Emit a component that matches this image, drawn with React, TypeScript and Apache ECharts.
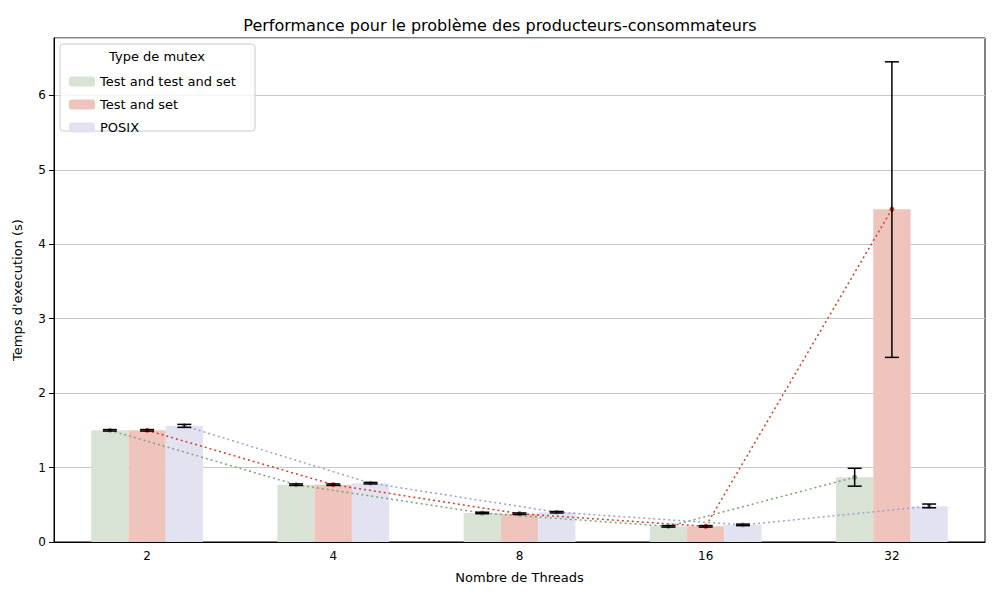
import { useEffect, useRef } from "react";
import * as echarts from "echarts";

const threads = ["2", "4", "8", "16", "32"];
const seriesNames = ["Test and test and set", "Test and set", "POSIX"];
const ttas = [1.5, 0.77, 0.39, 0.21, 0.87];
const tas = [1.5, 0.77, 0.38, 0.21, 4.47];
const posix = [1.56, 0.79, 0.4, 0.23, 0.48];
const ttasErr = [[1.49, 1.51], [0.76, 0.78], [0.38, 0.4], [0.2, 0.22], [0.75, 0.99]];
const tasErr = [[1.49, 1.51], [0.76, 0.78], [0.37, 0.39], [0.2, 0.22], [2.48, 6.45]];
const posixErr = [[1.54, 1.58], [0.78, 0.8], [0.39, 0.41], [0.22, 0.24], [0.46, 0.51]];

const barColors = ["#d8e3d6", "#efc4bc", "#e3e2f1"];
const lineColors = ["#7fa378", "#d0412a", "#a09fd0"];
const offsets = [-0.2, 0, 0.2];

export default function App() {
  const ref = useRef<HTMLDivElement>(null);

  useEffect(() => {
    if (!ref.current) return;
    const chart = echarts.init(ref.current, null, { renderer: "svg" });
    const values = [ttas, tas, posix];
    const errs = [ttasErr, tasErr, posixErr];

    const bars = values.map((v, s) => ({
      name: seriesNames[s],
      type: "bar",
      data: v,
      barGap: "0%",
      barCategoryGap: "40%",
      itemStyle: { color: barColors[s] },
      xAxisIndex: 0,
      z: 1,
    }));

    const lines = values.map((v, s) => ({
      type: "line",
      xAxisIndex: 1,
      data: v.map((y, i) => [i + offsets[s], y]),
      lineStyle: { color: lineColors[s], type: [2, 3], width: 1.5 },
      itemStyle: { color: lineColors[s] },
      symbol: "circle",
      symbolSize: 5,
      z: 3,
    }));

    const errors = errs.map((e, s) => ({
      type: "custom",
      xAxisIndex: 1,
      data: e.map((r, i) => [i + offsets[s], r[0], r[1]]),
      renderItem: (_p: any, api: any) => {
        const lo = api.coord([api.value(0), api.value(1)]);
        const hi = api.coord([api.value(0), api.value(2)]);
        const st = { stroke: "#000", lineWidth: 1.5 };
        return {
          type: "group",
          children: [
            { type: "line", shape: { x1: lo[0], y1: lo[1], x2: hi[0], y2: hi[1] }, style: st },
            { type: "line", shape: { x1: lo[0] - 7, y1: lo[1], x2: lo[0] + 7, y2: lo[1] }, style: st },
            { type: "line", shape: { x1: hi[0] - 7, y1: hi[1], x2: hi[0] + 7, y2: hi[1] }, style: st },
          ],
        };
      },
      z: 4,
    }));

    chart.setOption({
      animation: false,
      textStyle: { fontFamily: "DejaVu Sans" },
      title: {
        text: "Performance pour le problème des producteurs-consommateurs",
        left: "center",
        top: 12,
        textStyle: { fontSize: 16, fontWeight: "normal", color: "#000" },
      },
      grid: { left: 54, right: 15, top: 38, bottom: 58, show: true, borderColor: "#000", borderWidth: 1 },
      legend: {
        data: seriesNames,
        orient: "vertical",
        left: 64,
        top: 70,
        z: 20,
        itemWidth: 26,
        itemHeight: 10,
        itemGap: 10,
        textStyle: { fontSize: 13, color: "#000" },
      },
      graphic: [
        { type: "rect", shape: { x: 60, y: 44, width: 195, height: 87, r: 3 }, style: { fill: "rgba(255,255,255,0.8)", stroke: "#ccc" }, z: 10 },
        { type: "text", x: 157, y: 50, style: { text: "Type de mutex", fontSize: 13, fill: "#000", textAlign: "center", fontFamily: "DejaVu Sans" }, z: 11 },
      ],
      xAxis: [
        {
          type: "category",
          data: threads,
          name: "Nombre de Threads",
          nameLocation: "middle",
          nameGap: 29,
          nameTextStyle: { fontSize: 13, color: "#000" },
          axisLine: { lineStyle: { color: "#000" } },
          axisTick: { alignWithLabel: true, lineStyle: { color: "#000" } },
          axisLabel: { color: "#000", fontSize: 12 },
        },
        { type: "value", min: -0.5, max: 4.5, show: false },
      ],
      yAxis: {
        type: "value",
        min: 0,
        max: 6.77,
        interval: 1,
        name: "Temps d'execution (s)",
        nameLocation: "middle",
        nameGap: 30,
        nameTextStyle: { fontSize: 13, color: "#000" },
        axisLine: { show: true, onZero: false, lineStyle: { color: "#000" } },
        axisTick: { show: true, lineStyle: { color: "#000" } },
        axisLabel: { color: "#000", fontSize: 12, showMaxLabel: false },
        splitLine: { lineStyle: { color: "#c8c8c8" } },
      },
      series: [...bars, ...lines, ...errors],
    });
    return () => chart.dispose();
  }, []);

  return <div ref={ref} style={{ width: 1000, height: 600, margin: -8 }} />;
}
